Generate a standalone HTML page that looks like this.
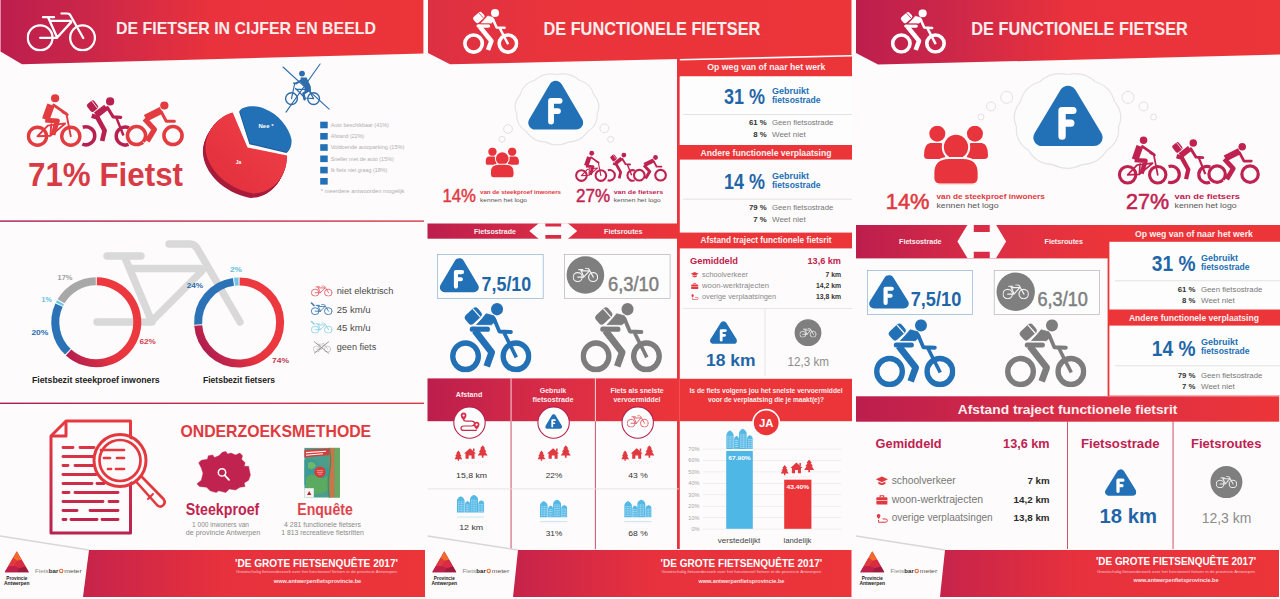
<!DOCTYPE html>
<html><head><meta charset="utf-8"><title>Fietsbarometer</title>
<style>
html,body{margin:0;padding:0;background:#fdfbfb;}
body{width:1280px;height:599px;overflow:hidden;font-family:'Liberation Sans', sans-serif;}
svg{display:block;font-family:'Liberation Sans', sans-serif;}
</style></head><body>
<svg width="1280" height="599" viewBox="0 0 1280 599">
<rect width="1280" height="599" fill="#fdfbfb"/>
<defs>
<linearGradient id="gHead" x1="0" y1="0" x2="1" y2="0">
<stop offset="0" stop-color="#bc1e4d"/><stop offset="0.22" stop-color="#cc2749"/><stop offset="0.5" stop-color="#e9323c"/><stop offset="1" stop-color="#ec3539"/></linearGradient>
<linearGradient id="gBand" x1="0" y1="0" x2="1" y2="0">
<stop offset="0" stop-color="#bc1e4d"/><stop offset="0.55" stop-color="#dc2e45"/><stop offset="1" stop-color="#ec3539"/></linearGradient>
<linearGradient id="gFoot" x1="0" y1="0" x2="1" y2="0">
<stop offset="0" stop-color="#c6234b"/><stop offset="0.4" stop-color="#e7313d"/><stop offset="1" stop-color="#ec3539"/></linearGradient>
<linearGradient id="gLine" x1="0" y1="0" x2="1" y2="0">
<stop offset="0" stop-color="#a51d52"/><stop offset="1" stop-color="#d93a48"/></linearGradient>
<linearGradient id="gDonut" x1="0" y1="0" x2="0" y2="1">
<stop offset="0" stop-color="#ec3539"/><stop offset="0.55" stop-color="#e8363f"/><stop offset="1" stop-color="#b01e50"/></linearGradient>
<linearGradient id="gDoc" gradientUnits="userSpaceOnUse" x1="0" y1="420" x2="0" y2="534">
<stop offset="0" stop-color="#e83a40"/><stop offset="1" stop-color="#b8234f"/></linearGradient>
<linearGradient id="gPie" gradientUnits="userSpaceOnUse" x1="285" y1="120" x2="215" y2="190">
<stop offset="0" stop-color="#ef4048"/><stop offset="1" stop-color="#e2303c"/></linearGradient>
<linearGradient id="gHead2" x1="0" y1="0" x2="1" y2="0">
<stop offset="0" stop-color="#dc3043"/><stop offset="0.3" stop-color="#ea343b"/><stop offset="1" stop-color="#ec3539"/></linearGradient>
<linearGradient id="gLogo" x1="0" y1="0" x2="1" y2="1">
<stop offset="0" stop-color="#f0652f"/><stop offset="1" stop-color="#a81c3c"/></linearGradient>
<symbol id="courier" viewBox="35 37 655 538" preserveAspectRatio="none">
<g fill="none" stroke="currentColor">
<circle cx="160" cy="450" r="103" stroke-width="43"/>
<circle cx="565" cy="450" r="103" stroke-width="43"/>
<path d="M470,268 L568,458" stroke-width="29"/>
<path d="M390,162 L432,258 L525,262" stroke-width="30" stroke-linecap="round" stroke-linejoin="round"/>
<path d="M234,250 L370,420 L330,528" stroke-width="54" stroke-linejoin="round"/>
<path d="M214,240 H336" stroke-width="40" stroke-linecap="round"/>
</g>
<g fill="currentColor">
<circle cx="413" cy="85" r="48"/>
<path d="M326,120 L388,136 L406,172 L368,206 L248,206 L294,158 Z" stroke="currentColor" stroke-width="6" stroke-linejoin="round"/>
<g transform="translate(222,138) rotate(-42)"><rect x="-66" y="-45" width="132" height="90" rx="27"/><path d="M36,-45 V45" style="stroke:var(--bg,#fdfbfb)" stroke-width="9"/></g>
</g>
<path d="M244,214 H350" style="stroke:var(--bg,#fdfbfb)" stroke-width="7"/>
</symbol>
<symbol id="upright" viewBox="45 28 422 398" preserveAspectRatio="none">
<g fill="none" stroke="currentColor">
<circle cx="125" cy="345" r="68" stroke-width="24"/>
<circle cx="385" cy="345" r="68" stroke-width="24"/>
<path d="M125,345 L205,262 L335,250 M125,345 L235,345 L330,255 M345,185 L385,345 M318,178 L355,190" stroke-width="13" stroke-linecap="round" stroke-linejoin="round"/>
<path d="M250,118 L345,185" stroke-width="16" stroke-linecap="round"/>
</g>
<g fill="currentColor">
<circle cx="258" cy="62" r="31"/>
<path d="M215,100 L268,112 L245,215 L285,222 L290,250 L262,258 L248,345 L215,340 L225,262 L165,250 L160,215 Z"/>
</g>
</symbol>
<symbol id="racer" viewBox="800 80 436 346" preserveAspectRatio="none">
<g fill="none" stroke="currentColor">
<circle cx="880" cy="345" r="67" stroke-width="26"/>
<circle cx="1152" cy="345" r="67" stroke-width="26"/>
<path d="M1062,172 L1100,236 L1160,236" stroke-width="17" stroke-linecap="round" stroke-linejoin="round"/>
</g>
<g fill="currentColor">
<circle cx="1090" cy="116" r="31"/>
<path d="M1040,140 L1078,162 L1050,205 L985,235 L1030,300 L975,392 L940,372 L982,305 L918,215 Z"/>
</g>
</symbol>
<symbol id="bike" viewBox="0 0 100 56.4" preserveAspectRatio="none">
<g fill="none" stroke="currentColor" style="stroke-width:var(--sw,3.3)" stroke-linecap="round" stroke-linejoin="round">
<circle cx="19.4" cy="36.8" r="17.9"/><circle cx="80.6" cy="36.8" r="17.9"/>
<path d="M23.5,7 H39.5 M31,7.4 L44,36.4 M34.5,12.4 H63.6 M64.2,14.2 L44,36.4 M19.4,36.8 H44 M50.2,1.7 H58 Q62,1.7 63.6,5.3 L81.6,37"/>
</g></symbol>
<symbol id="trio" viewBox="60 38 1145 398" preserveAspectRatio="none">
<g style="color:var(--c1,inherit)">
<g fill="none" stroke="currentColor">
<circle cx="140" cy="350" r="66" stroke-width="25"/>
<circle cx="382" cy="350" r="66" stroke-width="25"/>
<path d="M140,350 L215,272 L340,256 M140,350 L234,346 L340,258 M240,262 L234,346 M350,186 L382,350 M322,176 L360,192" stroke-width="14" stroke-linecap="round" stroke-linejoin="round"/>
<path d="M258,122 L350,186" stroke-width="21" stroke-linecap="round"/>
<path d="M238,120 L200,228" stroke-width="56" stroke-linecap="butt"/>
<path d="M196,232 L284,238 L252,340" stroke-width="36" stroke-linejoin="round"/>
</g><circle cx="268" cy="72" r="30" fill="currentColor"/>
</g>
<g style="color:var(--c2,inherit)">
<g fill="none" stroke="currentColor">
<path d="M469,284 A66,66 0 1 1 466,408" stroke-width="26"/>
<path d="M805,288 A66,66 0 1 0 802,410" stroke-width="26"/>
<path d="M713,214 L765,345" stroke-width="18"/>
<path d="M648,140 L690,208 L745,212" stroke-width="23" stroke-linecap="round" stroke-linejoin="round"/>
<path d="M640,138 L565,196" stroke-width="48" stroke-linecap="butt"/>
<path d="M534,200 L575,212 L628,308 L610,385" stroke-width="34" stroke-linejoin="round"/>
</g>
<g fill="currentColor"><circle cx="668" cy="95" r="30"/>
<g transform="translate(540,130) rotate(-38)"><rect x="-33" y="-36" width="66" height="72" rx="17"/><path d="M19,-36 V36" stroke="#fcfafa" stroke-width="6"/></g></g>
</g>
<g style="color:var(--c3,inherit)">
<g fill="none" stroke="currentColor">
<circle cx="860" cy="345" r="66" stroke-width="26"/>
<circle cx="1125" cy="345" r="66" stroke-width="26"/>
<path d="M1040,172 L1076,240 L1135,240" stroke-width="22" stroke-linecap="round" stroke-linejoin="round"/>
<path d="M1040,160 L925,218" stroke-width="52" stroke-linecap="butt"/>
<path d="M918,222 L990,300 L938,386" stroke-width="38" stroke-linejoin="round"/>
</g><circle cx="1062" cy="125" r="30" fill="currentColor"/>
<path d="M906,392 L938,412" stroke="#fcfafa" stroke-width="6" fill="none"/>
</g>
</symbol>
<symbol id="ftri" viewBox="0 0 100 92" preserveAspectRatio="none">
<path d="M50,14 L13,77 L87,77 Z" fill="currentColor" stroke="currentColor" stroke-width="25" stroke-linejoin="round"/>
<path d="M41.5,75 V37.5 H57 M41.5,56 H54" fill="none" stroke="#fff" stroke-width="10.5" stroke-linecap="round" stroke-linejoin="round"/>
</symbol>
<symbol id="people" viewBox="0 0 100 92" preserveAspectRatio="none">
<g fill="currentColor">
<circle cx="20.8" cy="12.5" r="12.5"/><circle cx="79.6" cy="12.5" r="12.5"/>
<path d="M0,46 Q0,28 10,27 H26 Q32,28 33,36 V52 H6 Q0,52 0,46 Z"/>
<path d="M100,46 Q100,28 90,27 H74 Q68,28 67,36 V52 H94 Q100,52 100,46 Z"/>
</g>
<g fill="currentColor" stroke="#fcfafa" stroke-width="3.2">
<circle cx="50" cy="33.3" r="20.6"/>
<path d="M14.6,82 V74 Q14.6,50.5 39,50.5 H61 Q85.4,50.5 85.4,74 V82 Q85,91 76,91.7 H24 Q15,91 14.6,82 Z"/>
</g></symbol>
<symbol id="land" viewBox="0 0 100 56" preserveAspectRatio="none">
<g fill="currentColor">
<path d="M11,16 L18,25 H15 L21,33 H17 L23,42 H13 V47 H9 V42 H-1 L5,33 H1 L7,25 H4 Z"/>
<path d="M84,0 L92,10 H88.5 L95.5,20 H91.5 L99,31 H86.5 V38 H81.5 V31 H69 L76.5,20 H72.5 L79.5,10 H76 Z"/>
<path d="M46,9 L64,25 H59.5 V41 H50.5 V31 H42 V41 H32.5 V25 H28 Z"/>
<rect x="55" y="10" width="4.5" height="9"/>
</g>
<g fill="#b9b9b9"><circle cx="12" cy="50" r="1.1"/><circle cx="24" cy="50" r="1.1"/><circle cx="36" cy="50" r="1.1"/><circle cx="48" cy="50" r="1.1"/><circle cx="60" cy="50" r="1.1"/><circle cx="72" cy="50" r="1.1"/><circle cx="84" cy="50" r="1.1"/><circle cx="18" cy="54" r="1.1"/><circle cx="30" cy="54" r="1.1"/><circle cx="42" cy="54" r="1.1"/><circle cx="54" cy="54" r="1.1"/><circle cx="66" cy="54" r="1.1"/><circle cx="78" cy="54" r="1.1"/><circle cx="90" cy="50" r="1.1"/></g>
</symbol>
<symbol id="city" viewBox="0 0 100 82" preserveAspectRatio="none">
<g fill="currentColor">
<path d="M0,64 V22 Q0,12 14,5 Q28,12 28,22 V64 Z"/>
<path d="M29.5,64 V33 Q29.5,26 39,22 Q48.5,26 48.5,33 V64 Z"/>
<path d="M48,64 V16 Q48,7 62,0 Q77,7 77,16 V64 Z"/>
<path d="M78,64 V31 Q78,24 89,20 Q100,24 100,31 V64 Z"/>
</g>
<g stroke="#fff" stroke-width="2.4" stroke-dasharray="3.4 3" opacity="0.8">
<path d="M6,24 V62 M11.5,24 V62 M17,24 V62 M22.5,24 V62 M34,35 V62 M39,35 V62 M44,35 V62 M54,18 V62 M59.5,18 V62 M65,18 V62 M70.5,18 V62 M83.5,33 V62 M89,33 V62 M94.5,33 V62"/>
</g>
<path d="M0,80.5 H100" stroke="currentColor" stroke-width="2" opacity="0.8"/>
</symbol>
<symbol id="logo" viewBox="0 0 100 88" preserveAspectRatio="none">
<path d="M50,0 L100,88 H0 Z" fill="#c8243f"/>
<path d="M50,0 L70,35 L52,40 L34,28 Z" fill="#f06a2c"/>
<path d="M34,28 L52,40 L40,62 L14,63 Z" fill="#e23a3c"/>
<path d="M52,40 L70,35 L86,63 L60,70 L40,62 Z" fill="#d82c42"/>
<path d="M14,63 L40,62 L60,70 L50,88 H0 Z" fill="#bb1f4a"/>
<path d="M60,70 L86,63 L100,88 H50 Z" fill="#9c1b40"/>
</symbol>
</defs>

<g id="p1">
<path d="M0.5,0 H423.4 V53.4 L22,64.2 L0.5,51.4 Z" fill="url(#gHead)"/>
<use href="#bike" x="26.7" y="12.3" width="69.3" height="39.1" color="#fff"/>
<text x="116" y="34.4" font-size="16.6" font-weight="700" fill="#fdeeee" text-anchor="start" textLength="260" lengthAdjust="spacingAndGlyphs" >DE FIETSER IN CIJFER EN BEELD</text>
<use href="#trio" x="26.5" y="93.6" width="157.5" height="54.4" color="#e23c40" style="--c2:#b8214f"/>
<text x="28" y="186" font-size="33" font-weight="700" fill="#d83b45" text-anchor="start" textLength="155" lengthAdjust="spacingAndGlyphs" >71% Fietst</text>
<g><path d="M232.7,112.5 C219,116 206,130 205.5,147.5 C206,168 226,188 252.8,193.5 C275,193 287.5,174 287,155.4 L247.5,147.5 Z" transform="translate(-2.60,4.40)" fill="#a81c3c"/><path d="M232.7,112.5 C219,116 206,130 205.5,147.5 C206,168 226,188 252.8,193.5 C275,193 287.5,174 287,155.4 L247.5,147.5 Z" transform="translate(-2.27,3.85)" fill="#a81c3c"/><path d="M232.7,112.5 C219,116 206,130 205.5,147.5 C206,168 226,188 252.8,193.5 C275,193 287.5,174 287,155.4 L247.5,147.5 Z" transform="translate(-1.95,3.30)" fill="#a81c3c"/><path d="M232.7,112.5 C219,116 206,130 205.5,147.5 C206,168 226,188 252.8,193.5 C275,193 287.5,174 287,155.4 L247.5,147.5 Z" transform="translate(-1.62,2.75)" fill="#a81c3c"/><path d="M232.7,112.5 C219,116 206,130 205.5,147.5 C206,168 226,188 252.8,193.5 C275,193 287.5,174 287,155.4 L247.5,147.5 Z" transform="translate(-1.30,2.20)" fill="#a81c3c"/><path d="M232.7,112.5 C219,116 206,130 205.5,147.5 C206,168 226,188 252.8,193.5 C275,193 287.5,174 287,155.4 L247.5,147.5 Z" transform="translate(-0.98,1.65)" fill="#a81c3c"/><path d="M232.7,112.5 C219,116 206,130 205.5,147.5 C206,168 226,188 252.8,193.5 C275,193 287.5,174 287,155.4 L247.5,147.5 Z" transform="translate(-0.65,1.10)" fill="#a81c3c"/><path d="M232.7,112.5 C219,116 206,130 205.5,147.5 C206,168 226,188 252.8,193.5 C275,193 287.5,174 287,155.4 L247.5,147.5 Z" transform="translate(-0.33,0.55)" fill="#a81c3c"/><path d="M232.7,112.5 C219,116 206,130 205.5,147.5 C206,168 226,188 252.8,193.5 C275,193 287.5,174 287,155.4 L247.5,147.5 Z" fill="url(#gPie)"/>
<path d="M239.7,110.8 C243,106 255,104.5 265,109 C278,114 289,127 291.5,139.5 C292,145 290,150 287,152 L250,143.2 Z" transform="translate(-0.6,1)" fill="#1a5a96"/><path d="M239.7,110.8 C243,106 255,104.5 265,109 C278,114 289,127 291.5,139.5 C292,145 290,150 287,152 L250,143.2 Z" fill="#2270b5"/></g>
<text x="266" y="128.3" font-size="5.6" font-weight="700" fill="#fff" text-anchor="middle" textLength="15" lengthAdjust="spacingAndGlyphs" >Nee *</text>
<text x="238.5" y="164" font-size="5.6" font-weight="700" fill="#fff" text-anchor="middle" textLength="5.5" lengthAdjust="spacingAndGlyphs" >Ja</text>
<g stroke="#2e6cab" fill="none" stroke-linecap="round" stroke-linejoin="round">
<path d="M283,67 L329.1,109.1 M320.1,64 L286,112.1" stroke-width="1.1"/>
<circle cx="291.5" cy="98.6" r="5.9" stroke-width="1.4"/><circle cx="313.6" cy="98.6" r="5.9" stroke-width="1.4"/>
<path d="M293.4,83.2 H296.2 L294.6,84 L291.5,98.6 M295.6,88.5 L305,98 L313.6,98.6 L308.6,89.6 M296,89.4 H308.6" stroke-width="1.2"/>
<path d="M302.6,79.6 L296.2,83.4" stroke-width="1.9"/>
<path d="M308.4,90.4 L303.4,93.6 L304.6,99.2" stroke-width="2.5"/>
</g>
<g fill="#2e6cab"><circle cx="302" cy="73.6" r="2.9"/><path d="M300.6,77.6 L306.6,77.4 L310.8,86.6 L311,91.6 L304.6,91.6 L304.4,86 L300.6,82.4 Z"/></g>
<rect x="320.2" y="121.7" width="7.5" height="6.6" fill="#2270b5"/>
<text x="330.7" y="126.9" font-size="5.4" font-weight="400" fill="#b0b0b0" text-anchor="start" textLength="58.2" lengthAdjust="spacingAndGlyphs" >Auto beschikbaar (41%)</text>
<rect x="320.2" y="133.0" width="7.5" height="6.6" fill="#2270b5"/>
<text x="330.7" y="138.17000000000002" font-size="5.4" font-weight="400" fill="#b0b0b0" text-anchor="start" textLength="33.4" lengthAdjust="spacingAndGlyphs" >Afstand (22%)</text>
<rect x="320.2" y="144.2" width="7.5" height="6.6" fill="#2270b5"/>
<text x="330.7" y="149.44" font-size="5.4" font-weight="400" fill="#b0b0b0" text-anchor="start" textLength="73.7" lengthAdjust="spacingAndGlyphs" >Voldoende autoparking (15%)</text>
<rect x="320.2" y="155.5" width="7.5" height="6.6" fill="#2270b5"/>
<text x="330.7" y="160.71" font-size="5.4" font-weight="400" fill="#b0b0b0" text-anchor="start" textLength="63.1" lengthAdjust="spacingAndGlyphs" >Sneller met de auto (15%)</text>
<rect x="320.2" y="166.8" width="7.5" height="6.6" fill="#2270b5"/>
<text x="330.7" y="171.98" font-size="5.4" font-weight="400" fill="#b0b0b0" text-anchor="start" textLength="56.7" lengthAdjust="spacingAndGlyphs" >Ik fiets niet graag (18%)</text>
<rect x="320.2" y="178.0" width="7.5" height="6.6" fill="#2270b5"/>
<text x="330.7" y="183.25" font-size="5.4" font-weight="400" fill="#b0b0b0" text-anchor="start" textLength="1.5" lengthAdjust="spacingAndGlyphs" >.</text>
<text x="320.8" y="193.2" font-size="5.4" font-weight="400" fill="#b0b0b0" text-anchor="start" textLength="83.6" lengthAdjust="spacingAndGlyphs" >* meerdere antwoorden mogelijk</text>
<rect x="0" y="220.4" width="424" height="1.4" fill="url(#gLine)"/>
<rect x="0" y="402.6" width="424" height="1.4" fill="url(#gLine)"/>
<g fill="none" stroke="#d9d9d9" stroke-width="7.4" stroke-linecap="round" stroke-linejoin="round">
<path d="M107,256 H141 M125,258 L152,322 M131,268.5 H200 M202,271 L152,321 M97,322 H152 M169,244 H190 Q195,244 197.5,249 L240,322"/>
</g>
<linearGradient id="gD1" gradientUnits="userSpaceOnUse" x1="108.6" y1="314.0" x2="57.4" y2="346.8"><stop offset="0" stop-color="#ec383f"/><stop offset="0.35" stop-color="#e4333f"/><stop offset="1" stop-color="#ae1d50"/></linearGradient>
<path d="M96.80,281.20 A41,41 0 1 1 68.60,352.43" fill="none" stroke="url(#gD1)" stroke-width="8"/>
<path d="M67.87,351.74 A41,41 0 0 1 58.99,305.20" fill="none" stroke="#2b72b7" stroke-width="8"/>
<path d="M59.42,304.29 A41,41 0 0 1 60.50,302.21" fill="none" stroke="#6cc6ea" stroke-width="8"/>
<path d="M61.00,301.34 A41,41 0 0 1 95.80,281.20" fill="none" stroke="#a8a8a8" stroke-width="8"/>
<linearGradient id="gD2" gradientUnits="userSpaceOnUse" x1="251.4" y1="314.3" x2="200.2" y2="347.1"><stop offset="0" stop-color="#ec383f"/><stop offset="0.35" stop-color="#e4333f"/><stop offset="1" stop-color="#ae1d50"/></linearGradient>
<path d="M239.60,281.50 A41,41 0 1 1 198.22,325.57" fill="none" stroke="url(#gD2)" stroke-width="8"/>
<path d="M198.15,324.57 A41,41 0 0 1 233.46,281.89" fill="none" stroke="#2b72b7" stroke-width="8"/>
<path d="M234.46,281.76 A41,41 0 0 1 238.60,281.50" fill="none" stroke="#6cc6ea" stroke-width="8"/>
<text x="57.5" y="280.2" font-size="7.2" font-weight="700" fill="#a0a0a0" text-anchor="start" textLength="15" lengthAdjust="spacingAndGlyphs" >17%</text>
<text x="41.6" y="301.6" font-size="7.2" font-weight="700" fill="#62c0e2" text-anchor="start" textLength="10" lengthAdjust="spacingAndGlyphs" >1%</text>
<text x="31.4" y="335.2" font-size="7.2" font-weight="700" fill="#2b6cab" text-anchor="start" textLength="17" lengthAdjust="spacingAndGlyphs" >20%</text>
<text x="139.5" y="344.3" font-size="7.2" font-weight="700" fill="#d0434f" text-anchor="start" textLength="16.3" lengthAdjust="spacingAndGlyphs" >62%</text>
<text x="186.7" y="288.1" font-size="7.2" font-weight="700" fill="#2b6cab" text-anchor="start" textLength="16.5" lengthAdjust="spacingAndGlyphs" >24%</text>
<text x="230" y="272.2" font-size="7.2" font-weight="700" fill="#62c0e2" text-anchor="start" textLength="12" lengthAdjust="spacingAndGlyphs" >2%</text>
<text x="272" y="362.6" font-size="7.2" font-weight="700" fill="#c03a52" text-anchor="start" textLength="17" lengthAdjust="spacingAndGlyphs" >74%</text>
<text x="32" y="382.8" font-size="8.2" font-weight="700" fill="#222" text-anchor="start" textLength="127.7" lengthAdjust="spacingAndGlyphs" >Fietsbezit steekproef inwoners</text>
<text x="203" y="382.8" font-size="8.2" font-weight="700" fill="#222" text-anchor="start" textLength="72" lengthAdjust="spacingAndGlyphs" >Fietsbezit fietsers</text>
<use href="#bike" x="311" y="285.5" width="21.5" height="11" color="#e4626a" style="--sw:4.4"/>
<use href="#bike" x="311" y="304" width="21.5" height="11" color="#3a78b0" style="--sw:4.4"/>
<path d="M311.5,303 l2.5,2.5" stroke="#3a78b0" stroke-width="1.6" stroke-linecap="round"/>
<use href="#bike" x="311" y="322.5" width="21.5" height="11" color="#8fd3ea" style="--sw:4.4"/>
<path d="M311.5,321.5 l2.5,2.5" stroke="#8fd3ea" stroke-width="1.6" stroke-linecap="round"/>
<g opacity="0.8"><use href="#bike" x="313" y="343" width="18" height="9.5" color="#9a9a9a"/><path d="M314,341.5 L329,353.5 M329,341.5 L314,353.5" stroke="#7a7a7a" stroke-width="0.9"/></g>
<text x="336.7" y="294.2" font-size="9.2" font-weight="400" fill="#4a4a4a" text-anchor="start" textLength="56.7" lengthAdjust="spacingAndGlyphs" >niet elektrisch</text>
<text x="336.7" y="312.8" font-size="9.2" font-weight="400" fill="#4a4a4a" text-anchor="start" textLength="34" lengthAdjust="spacingAndGlyphs" >25 km/u</text>
<text x="336.7" y="331.4" font-size="9.2" font-weight="400" fill="#4a4a4a" text-anchor="start" textLength="34" lengthAdjust="spacingAndGlyphs" >45 km/u</text>
<text x="336.7" y="350.4" font-size="9.2" font-weight="400" fill="#4a4a4a" text-anchor="start" textLength="39.5" lengthAdjust="spacingAndGlyphs" >geen fiets</text>
<g fill="none" stroke="url(#gDoc)" stroke-width="3" stroke-linejoin="round">
<path d="M66,421 H130.5 V533 H51 V436 Z"/>
<path d="M66,421 V436 H51"/>
<g stroke-width="2.9" stroke-linecap="round">
<path d="M63,447.5 H73 M80,447.5 H94"/>
<path d="M63,456.5 H93"/>
<path d="M63,465.5 H68 M75,465.5 H93"/>
<path d="M63,474.5 H96"/>
<path d="M63,483.5 H92 M97,483.5 H104"/>
<path d="M63,492.5 H69 M75,492.5 H118"/>
<path d="M63,501.5 H103 M109,501.5 H118"/>
<path d="M63,510.5 H77 M90,510.5 H118"/>
<path d="M63,519.5 H66 M71,519.5 H97 M102,519.5 H118"/>
</g>
</g>
<circle cx="120" cy="460.5" r="24" fill="#fcfafa"/>
<g fill="none" stroke="#e4383f" stroke-linejoin="round" stroke-linecap="round">
<circle cx="120" cy="460.5" r="26" stroke-width="3"/>
<circle cx="120" cy="460.5" r="20.5" stroke-width="2.7"/>
<path d="M101,450 H124 M104,458 H110 M117,458 H124 M108,469 H111 M116,469 H124" stroke-width="2.7"/>
<path d="M136,481.5 L157.5,505.5 Q161,508 163.5,505 Q166,502 163.5,499 L141.5,476.5" stroke-width="2.6"/>
<path d="M153,494 l-5,5" stroke-width="2"/>
</g>
<text x="180.4" y="436.6" font-size="16.2" font-weight="700" fill="#e0393f" text-anchor="start" textLength="190.8" lengthAdjust="spacingAndGlyphs" >ONDERZOEKSMETHODE</text>
<path d="M225.8,451.4 L227.6,454.0 L231.1,453.1 L235.5,454.9 L239.9,453.1 L242.5,455.8 L241.6,459.3 L245.1,462.8 L244.2,466.3 L248.6,466.3 L250.4,475.1 L248.6,480.3 L244.2,482.9 L245.1,486.5 L239.9,487.3 L235.5,490.0 L229.3,489.1 L225.8,492.6 L218.8,490.8 L216.2,492.6 L210.1,490.8 L206.6,487.3 L199.5,486.5 L196.9,483.8 L201.3,480.3 L203.0,473.3 L201.3,468.0 L198.7,462.8 L201.3,460.2 L207.4,459.3 L208.3,455.8 L212.7,454.9 L214.4,457.5 L218.8,455.8 L222.3,452.3 Z" fill="#c0234f" stroke="#c0234f" stroke-width="0.4" stroke-linejoin="round"/>
<circle cx="222" cy="472.4" r="3.7" fill="none" stroke="#fff" stroke-width="1.5"/><path d="M224.8,475.3 L229,479.8" stroke="#fff" stroke-width="1.8" stroke-linecap="round"/>
<g>
<rect x="304.4" y="447.9" width="35.4" height="49.6" fill="#4a9f8c"/>
<path d="M304.4,460 q8,-3 13,3 q6,7 12,4 v20 q-8,6 -14,0 q-6,-5 -11,-2 Z" fill="#3e9a96"/>
<path d="M306,478 q5,-6 11,-2 q7,5 10,-1 l2,14 q-10,8 -23,3 Z" fill="#5aaa62"/>
<path d="M308,463 q6,-3 8,3 q-3,5 -8,2 Z" fill="#6cb86a"/>
<rect x="329.4" y="447.9" width="5.2" height="49.6" fill="#c9744a"/>
<path d="M329.4,447.9 q2.5,12 0,25 q-2.5,12 0,24.6" stroke="#3f8c5a" stroke-width="1.2" fill="none"/>
<rect x="334.6" y="447.9" width="5.2" height="49.6" fill="#6aa860"/>
<path d="M304.4,450 l25,-1.6 v6.6 l-25,2.4 Z" fill="#d63c3c"/>
<path d="M306,452.6 l20,-1.4 M306,455.2 l17,-1.4" stroke="#fff" stroke-width="1.1"/>
<circle cx="320" cy="472" r="5.6" fill="#d63c3c"/>
<path d="M317,470.6 h6 M317,472.4 h6 M318,474.2 h4" stroke="#f6c9c0" stroke-width="0.6"/>
<rect x="304.4" y="488.2" width="9.4" height="9.3" fill="#f7f5f3"/>
<path d="M307,495 l2.2,-4 l2.2,4 Z" fill="#b8203a"/>
</g>
<text x="185.8" y="515" font-size="15.6" font-weight="700" fill="#c0254f" text-anchor="start" textLength="73.5" lengthAdjust="spacingAndGlyphs" >Steekproef</text>
<text x="297.3" y="515" font-size="15.6" font-weight="700" fill="#e0434c" text-anchor="start" textLength="55.5" lengthAdjust="spacingAndGlyphs" >Enquête</text>
<text x="220.5" y="526.8" font-size="6.4" font-weight="400" fill="#8a8a8a" text-anchor="middle" textLength="57" lengthAdjust="spacingAndGlyphs" >1 000 inwoners van</text>
<text x="223" y="534.7" font-size="6.4" font-weight="400" fill="#8a8a8a" text-anchor="middle" textLength="74.5" lengthAdjust="spacingAndGlyphs" >de provincie Antwerpen</text>
<text x="322.5" y="526.8" font-size="6.4" font-weight="400" fill="#8a8a8a" text-anchor="middle" textLength="77" lengthAdjust="spacingAndGlyphs" >4 281 functionele fietsers</text>
<text x="322.5" y="534.7" font-size="6.4" font-weight="400" fill="#8a8a8a" text-anchor="middle" textLength="82.5" lengthAdjust="spacingAndGlyphs" >1 813 recreatieve fietsritten</text>
<path d="M89,550 H425 V597 H83 Z" fill="url(#gFoot)"/>
<path d="M0,536 L89,550" stroke="#d9d6d6" stroke-width="1.5" fill="none"/>
<use href="#logo" x="4.6" y="551.3" width="24.4" height="21.3"/>
<text x="16.8" y="580" font-size="4.8" font-weight="700" fill="#222" text-anchor="middle" textLength="21" lengthAdjust="spacingAndGlyphs" >Provincie</text>
<text x="16.8" y="584.6" font-size="4.8" font-weight="700" fill="#222" text-anchor="middle" textLength="25.5" lengthAdjust="spacingAndGlyphs" >Antwerpen</text>
<text x="35" y="572.8" font-size="5.6" font-weight="400" fill="#8a8a8a" text-anchor="start" textLength="13.5" lengthAdjust="spacingAndGlyphs" >Fiets</text>
<text x="48.8" y="572.8" font-size="5.6" font-weight="700" fill="#2a2a2a" text-anchor="start" textLength="9.5" lengthAdjust="spacingAndGlyphs" >bar</text>
<circle cx="61.2" cy="570.9" r="1.7" fill="none" stroke="#e0703c" stroke-width="1.1"/>
<text x="64.2" y="572.8" font-size="5.6" font-weight="400" fill="#555" text-anchor="start" textLength="17.5" lengthAdjust="spacingAndGlyphs" >meter</text>
<text x="235" y="566.5" font-size="10.6" font-weight="700" fill="#fff" text-anchor="start" textLength="163" lengthAdjust="spacingAndGlyphs" >'DE GROTE FIETSENQUÊTE 2017'</text>
<text x="236" y="572.6" font-size="3.6" font-weight="400" fill="#f8c5c8" text-anchor="start" textLength="161" lengthAdjust="spacingAndGlyphs" >Grootschalig fietsonderzoek over het functioneel fietsen in de provincie Antwerpen</text>
<text x="317.5" y="583.3" font-size="5.6" font-weight="700" fill="#fde4e4" text-anchor="middle" textLength="87.5" lengthAdjust="spacingAndGlyphs" >www.antwerpenfietsprovincie.be</text>
</g>

<g id="p2">
<path d="M428,0 H851.5 V55 L450,64.3 L428,53 Z" fill="url(#gHead2)"/>
<use href="#courier" x="463" y="9" width="55.5" height="45" color="#fff" style="--bg:#e8343c"/>
<text x="543.4" y="34.6" font-size="18.4" font-weight="700" fill="#fdeeee" text-anchor="start" textLength="217" lengthAdjust="spacingAndGlyphs" >DE FUNCTIONELE FIETSER</text>
<rect x="677" y="57" width="2.8" height="492" fill="#e8343e"/>
<path d="M678.8,60.6 L852,56.6 V76.5 H678.8 Z" fill="#ec3539"/>
<rect x="850.6" y="57" width="1.6" height="492" fill="#ec3539" opacity="0.0"/>
<text x="766.3" y="69.6" font-size="9.2" font-weight="700" fill="#fdeeee" text-anchor="middle" textLength="118" lengthAdjust="spacingAndGlyphs" >Op weg van of naar het werk</text>
<rect x="679.8" y="76.5" width="172.2" height="68.5" fill="#fefdfd"/>
<text x="724" y="104" font-size="22.5" font-weight="700" fill="#1f66a8" text-anchor="start" textLength="41" lengthAdjust="spacingAndGlyphs" >31 %</text>
<text x="772" y="94.4" font-size="8.6" font-weight="700" fill="#2270b5" text-anchor="start" textLength="37" lengthAdjust="spacingAndGlyphs" >Gebruikt</text>
<text x="772" y="103.2" font-size="8.6" font-weight="700" fill="#2270b5" text-anchor="start" textLength="48.6" lengthAdjust="spacingAndGlyphs" >fietsostrade</text>
<rect x="683" y="114" width="169" height="0.8" fill="#dcdcdc"/>
<text x="766.7" y="124.8" font-size="7.8" font-weight="700" fill="#333" text-anchor="end" >61 %</text>
<text x="772" y="124.8" font-size="7.8" font-weight="400" fill="#777" text-anchor="start" textLength="61.3" lengthAdjust="spacingAndGlyphs" >Geen fietsostrade</text>
<text x="766.7" y="136.5" font-size="7.8" font-weight="700" fill="#333" text-anchor="end" >8 %</text>
<text x="772" y="136.5" font-size="7.8" font-weight="400" fill="#777" text-anchor="start" textLength="33.7" lengthAdjust="spacingAndGlyphs" >Weet niet</text>
<rect x="678.8" y="145" width="173.2" height="14.6" fill="#ec3539"/>
<text x="766" y="155.6" font-size="9.2" font-weight="700" fill="#fdeeee" text-anchor="middle" textLength="131" lengthAdjust="spacingAndGlyphs" >Andere functionele verplaatsing</text>
<text x="724" y="188.6" font-size="22.5" font-weight="700" fill="#1f66a8" text-anchor="start" textLength="41" lengthAdjust="spacingAndGlyphs" >14 %</text>
<text x="772" y="179.4" font-size="8.6" font-weight="700" fill="#2270b5" text-anchor="start" textLength="37" lengthAdjust="spacingAndGlyphs" >Gebruikt</text>
<text x="772" y="188.2" font-size="8.6" font-weight="700" fill="#2270b5" text-anchor="start" textLength="48.6" lengthAdjust="spacingAndGlyphs" >fietsostrade</text>
<rect x="683" y="198.7" width="169" height="0.8" fill="#dcdcdc"/>
<text x="766.7" y="210.2" font-size="7.8" font-weight="700" fill="#333" text-anchor="end" >79 %</text>
<text x="772" y="210.2" font-size="7.8" font-weight="400" fill="#777" text-anchor="start" textLength="61.3" lengthAdjust="spacingAndGlyphs" >Geen fietsostrade</text>
<text x="766.7" y="222.2" font-size="7.8" font-weight="700" fill="#333" text-anchor="end" >7 %</text>
<text x="772" y="222.2" font-size="7.8" font-weight="400" fill="#777" text-anchor="start" textLength="33.7" lengthAdjust="spacingAndGlyphs" >Weet niet</text>
<rect x="678.8" y="232.6" width="173.2" height="15.8" fill="#ec3539"/>
<text x="766" y="243.4" font-size="9.2" font-weight="700" fill="#fdeeee" text-anchor="middle" textLength="131" lengthAdjust="spacingAndGlyphs" >Afstand traject functionele fietsrit</text>
<text x="690" y="264.3" font-size="9.6" font-weight="700" fill="#bf2250" text-anchor="start" textLength="48" lengthAdjust="spacingAndGlyphs" >Gemiddeld</text>
<text x="841" y="264.3" font-size="9.6" font-weight="700" fill="#bf2250" text-anchor="end" textLength="33.5" lengthAdjust="spacingAndGlyphs" >13,6 km</text>
<g transform="translate(691.2,271.29999999999995) scale(0.7)" fill="#e0393f"><path d="M5,1 L10.5,3.6 L5,6.2 L-0.5,3.6 Z"/><path d="M1.8,5.6 V7.6 Q5,9.8 8.2,7.6 V5.6 L5,7.2 Z"/></g>
<text x="702" y="276.9" font-size="7.2" font-weight="400" fill="#8a8a8a" text-anchor="start" textLength="46" lengthAdjust="spacingAndGlyphs" >schoolverkeer</text>
<text x="841" y="276.9" font-size="6.8" font-weight="700" fill="#333" text-anchor="end" >7 km</text>
<g transform="translate(691.2,282.59999999999997) scale(0.7)" fill="#e0393f"><rect x="0" y="2.6" width="10" height="6.6" rx="0.8"/><path d="M3.4,2.6 V1.2 H6.6 V2.6" fill="none" stroke="#e0393f" stroke-width="1"/><rect x="0" y="5.2" width="10" height="0.6" fill="#fff"/></g>
<text x="702" y="288.2" font-size="7.2" font-weight="400" fill="#8a8a8a" text-anchor="start" textLength="67" lengthAdjust="spacingAndGlyphs" >woon-werktrajecten</text>
<text x="841" y="288.2" font-size="6.8" font-weight="700" fill="#333" text-anchor="end" >14,2 km</text>
<g transform="translate(691.2,293.5) scale(0.7)"><path d="M2,1 a1.7,1.7 0 0 1 1.7,1.7 q0,1.2 -1.7,3 q-1.7,-1.8 -1.7,-3 a1.7,1.7 0 0 1 1.7,-1.7 Z" fill="#e0393f"/><path d="M2,6.4 V8.6 H8 Q10,8.6 10,7 Q10,5.6 8,5.6 H5.6" fill="none" stroke="#e0393f" stroke-width="0.9"/></g>
<text x="702" y="299.1" font-size="7.2" font-weight="400" fill="#8a8a8a" text-anchor="start" textLength="74" lengthAdjust="spacingAndGlyphs" >overige verplaatsingen</text>
<text x="841" y="299.1" font-size="6.8" font-weight="700" fill="#333" text-anchor="end" >13,8 km</text>
<rect x="683" y="308" width="169" height="0.8" fill="#e2e2e2"/>
<rect x="764.6" y="308" width="0.8" height="68" fill="#e2e2e2"/>
<use href="#ftri" x="710" y="321" width="27" height="23.5" color="#2270b5"/>
<text x="706" y="365.5" font-size="17" font-weight="700" fill="#1f66a8" text-anchor="start" textLength="49.5" lengthAdjust="spacingAndGlyphs" >18 km</text>
<circle cx="808" cy="332.7" r="13.4" fill="#7f7f7f"/>
<use href="#bike" x="799.5" y="328" width="17" height="9.6" color="#e8e8e8" style="--sw:5"/>
<text x="787.6" y="366" font-size="12.6" font-weight="400" fill="#8c8c8c" text-anchor="start" textLength="41.5" lengthAdjust="spacingAndGlyphs" >12,3 km</text>
<path d="M557.0,74.5 Q569.8,71.9 578.9,80.0 Q591.3,83.7 593.8,94.7 Q601.9,103.5 597.1,113.9 Q598.3,125.1 587.6,131.6 Q581.5,141.5 568.4,142.1 Q557.0,147.6 545.6,142.1 Q532.5,141.5 526.4,131.6 Q515.7,125.1 516.9,113.9 Q512.1,103.5 520.2,94.7 Q522.7,83.7 535.1,80.0 Q544.2,71.9 557.0,74.5" fill="#fdfcfc" stroke="#e6e3e3" stroke-width="1.2"/>
<g fill="#fdfcfc" stroke="#dadada" stroke-width="0.8"><circle cx="508" cy="129" r="4.4"/><circle cx="502" cy="139.3" r="3"/><circle cx="604.3" cy="128.3" r="4.4"/><circle cx="610.6" cy="139.3" r="3"/></g>
<use href="#ftri" x="528" y="80" width="55.5" height="51" color="#2270b5"/>
<use href="#people" x="485.5" y="147.6" width="33.5" height="30.4" color="#e8343c"/>
<use href="#trio" x="575" y="150.5" width="92.00" height="31.98" color="#bf2250"/>
<text x="442.5" y="201.8" font-size="17.6" font-weight="400" fill="#e0393f" text-anchor="start" textLength="33.5" lengthAdjust="spacingAndGlyphs" stroke="#e0393f" stroke-width="0.45">14%</text>
<text x="480" y="193.7" font-size="5.9" font-weight="700" fill="#e0393f" text-anchor="start" textLength="81" lengthAdjust="spacingAndGlyphs" >van de steekproef inwoners</text>
<text x="480" y="201.8" font-size="5.9" font-weight="400" fill="#555" text-anchor="start" textLength="47" lengthAdjust="spacingAndGlyphs" >kennen het logo</text>
<text x="576" y="201.8" font-size="17.6" font-weight="400" fill="#bf2250" text-anchor="start" textLength="34" lengthAdjust="spacingAndGlyphs" stroke="#bf2250" stroke-width="0.45">27%</text>
<text x="613.7" y="193.7" font-size="5.9" font-weight="700" fill="#bf2250" text-anchor="start" textLength="49.5" lengthAdjust="spacingAndGlyphs" >van de fietsers</text>
<text x="613.7" y="201.8" font-size="5.9" font-weight="400" fill="#555" text-anchor="start" textLength="47" lengthAdjust="spacingAndGlyphs" >kennen het logo</text>
<rect x="427.5" y="223.5" width="251.5" height="15.2" fill="url(#gBand)"/>
<path d="M529.30,231.10 L538.80,223.30 L545.35,223.30 L545.35,226.60 L561.15,226.60 L561.15,223.30 L567.70,223.30 L577.20,231.10 L567.70,238.90 L561.15,238.90 L561.15,235.00 L545.35,235.00 L545.35,238.90 L538.80,238.90 Z" fill="#fdfbfb"/>
<text x="495" y="233.5" font-size="6.4" font-weight="700" fill="#fdeeee" text-anchor="middle" textLength="42" lengthAdjust="spacingAndGlyphs" >Fietsostrade</text>
<text x="623.3" y="233.5" font-size="6.4" font-weight="700" fill="#fdeeee" text-anchor="middle" textLength="38.5" lengthAdjust="spacingAndGlyphs" >Fietsroutes</text>
<rect x="437.6" y="254.4" width="105.6" height="44.2" fill="#fdfdfd" stroke="#8fb0cc" stroke-width="0.7"/>
<rect x="564.5" y="254.4" width="105.6" height="44.2" fill="#fdfdfd" stroke="#b5b5b5" stroke-width="0.7"/>
<use href="#ftri" x="439.6" y="257.6" width="39.4" height="35.6" color="#2270b5"/>
<text x="481.6" y="291.2" font-size="19.4" font-weight="700" fill="#1f66a8" text-anchor="start" textLength="49.6" lengthAdjust="spacingAndGlyphs" >7,5/10</text>
<circle cx="585.4" cy="275" r="18.8" fill="#7f7f7f"/>
<use href="#bike" x="572.8" y="267.8" width="25.2" height="14.2" color="#f2f2f2" style="--sw:4.6"/>
<text x="608" y="291.2" font-size="19.4" font-weight="400" fill="#808080" text-anchor="start" textLength="51" lengthAdjust="spacingAndGlyphs" stroke="#808080" stroke-width="0.5">6,3/10</text>
<use href="#courier" x="450" y="303" width="81.5" height="69.4" color="#2270b5"/>
<use href="#courier" x="580.5" y="303" width="81.5" height="69.4" color="#7d7d7d"/>
<rect x="427.5" y="378.4" width="251.5" height="42.8" fill="url(#gBand)"/>
<rect x="510.6" y="378.4" width="0.9" height="42.8" fill="#fff" opacity="0.9"/><rect x="594.9" y="378.4" width="0.9" height="42.8" fill="#fff" opacity="0.9"/>
<rect x="510.6" y="421.2" width="0.9" height="128" fill="#c9405a"/><rect x="594.9" y="421.2" width="0.9" height="128" fill="#c9405a"/>
<text x="469" y="396.9" font-size="6.5" font-weight="700" fill="#fdeeee" text-anchor="middle" textLength="26.5" lengthAdjust="spacingAndGlyphs" >Afstand</text>
<text x="553" y="392.7" font-size="6.5" font-weight="700" fill="#fdeeee" text-anchor="middle" textLength="26.5" lengthAdjust="spacingAndGlyphs" >Gebruik</text>
<text x="553" y="401.8" font-size="6.5" font-weight="700" fill="#fdeeee" text-anchor="middle" textLength="41" lengthAdjust="spacingAndGlyphs" >fietsostrade</text>
<text x="637" y="392.7" font-size="6.5" font-weight="700" fill="#fdeeee" text-anchor="middle" textLength="53" lengthAdjust="spacingAndGlyphs" >Fiets als snelste</text>
<text x="637" y="401.8" font-size="6.5" font-weight="700" fill="#fdeeee" text-anchor="middle" textLength="47" lengthAdjust="spacingAndGlyphs" >vervoermiddel</text>
<circle cx="469.5" cy="422.6" r="15.7" fill="#fefdfd" stroke="#b5234f" stroke-width="1.1"/>
<circle cx="553.6" cy="422.6" r="15.7" fill="#fefdfd" stroke="#b5234f" stroke-width="1.1"/>
<circle cx="637.7" cy="422.6" r="15.7" fill="#fefdfd" stroke="#b5234f" stroke-width="1.1"/>
<g fill="none" stroke="#c42c4c" stroke-width="1.2" stroke-linecap="round">
<path d="M463.6,419.6 q0,1.6 3,1.6 h5 q3,0 3,2.4 q0,2.4 -3,2.4 h-8 q-2.6,0 -2.6,2.2 q0,2.2 2.6,2.2 h12.6"/>
</g>
<g fill="#d8304a"><path d="M463.6,412.6 a2.9,2.9 0 0 1 2.9,2.9 q0,2 -2.9,5 q-2.9,-3 -2.9,-5 a2.9,2.9 0 0 1 2.9,-2.9 Z"/>
<path d="M476.6,421.8 a2.9,2.9 0 0 1 2.9,2.9 q0,2 -2.9,5 q-2.9,-3 -2.9,-5 a2.9,2.9 0 0 1 2.9,-2.9 Z"/></g>
<circle cx="463.6" cy="415.5" r="1.1" fill="#fff"/><circle cx="476.6" cy="424.7" r="1.1" fill="#fff"/>
<use href="#ftri" x="545.2" y="414" width="17" height="15.2" color="#2270b5"/>
<use href="#bike" x="626.8" y="415.3" width="21.8" height="12.2" color="#e0616a" style="--sw:4.4"/>
<use href="#land" x="454.7" y="445.2" width="33.3" height="18.6" color="#e0393f"/>
<use href="#land" x="537.8" y="445.2" width="33.3" height="18.6" color="#e0393f"/>
<use href="#land" x="621.4" y="445.2" width="33.3" height="18.6" color="#e0393f"/>
<text x="471.6" y="477.5" font-size="8" font-weight="400" fill="#333" text-anchor="middle" textLength="31" lengthAdjust="spacingAndGlyphs" >15,8 km</text>
<text x="554" y="477.5" font-size="8" font-weight="400" fill="#333" text-anchor="middle" textLength="16.5" lengthAdjust="spacingAndGlyphs" >22%</text>
<text x="638" y="477.5" font-size="8" font-weight="400" fill="#333" text-anchor="middle" textLength="19.5" lengthAdjust="spacingAndGlyphs" >43 %</text>
<rect x="427.5" y="488.5" width="251.5" height="0.8" fill="#e2e2e2"/>
<use href="#city" x="456.9" y="494.8" width="27.4" height="22.8" color="#55b9e7"/>
<use href="#city" x="539.9" y="499.5" width="27.4" height="22.8" color="#55b9e7"/>
<use href="#city" x="624.2" y="499.5" width="27.4" height="22.8" color="#55b9e7"/>
<text x="471.2" y="530.3" font-size="8" font-weight="400" fill="#333" text-anchor="middle" textLength="24" lengthAdjust="spacingAndGlyphs" >12 km</text>
<text x="554" y="535.8" font-size="8" font-weight="400" fill="#333" text-anchor="middle" textLength="16.5" lengthAdjust="spacingAndGlyphs" >31%</text>
<text x="638" y="535.8" font-size="8" font-weight="400" fill="#333" text-anchor="middle" textLength="19.5" lengthAdjust="spacingAndGlyphs" >68 %</text>
<rect x="679.8" y="378.8" width="172.2" height="42.4" fill="#ec3539"/>
<text x="766" y="392.6" font-size="6.3" font-weight="700" fill="#fdeeee" text-anchor="middle" textLength="153" lengthAdjust="spacingAndGlyphs" >Is de fiets volgens jou het snelste vervoermiddel</text>
<text x="766" y="401.5" font-size="6.3" font-weight="700" fill="#fdeeee" text-anchor="middle" textLength="116" lengthAdjust="spacingAndGlyphs" >voor de verplaatsing die je maakt(e)?</text>
<circle cx="766.2" cy="422.8" r="13.2" fill="#ec3539" stroke="#fdfbfb" stroke-width="1.6"/>
<text x="766.2" y="427" font-size="11.6" font-weight="700" fill="#fff" text-anchor="middle" textLength="14.5" lengthAdjust="spacingAndGlyphs" >JA</text>
<rect x="703" y="528.8" width="138" height="0.6" fill="#e6e6e6"/>
<text x="699.5" y="531.0" font-size="5.6" font-weight="400" fill="#a8a8a8" text-anchor="end" >0%</text>
<rect x="703" y="517.4" width="138" height="0.6" fill="#e6e6e6"/>
<text x="699.5" y="519.57" font-size="5.6" font-weight="400" fill="#a8a8a8" text-anchor="end" >10%</text>
<rect x="703" y="505.9" width="138" height="0.6" fill="#e6e6e6"/>
<text x="699.5" y="508.13999999999993" font-size="5.6" font-weight="400" fill="#a8a8a8" text-anchor="end" >20%</text>
<rect x="703" y="494.5" width="138" height="0.6" fill="#e6e6e6"/>
<text x="699.5" y="496.7099999999999" font-size="5.6" font-weight="400" fill="#a8a8a8" text-anchor="end" >30%</text>
<rect x="703" y="483.1" width="138" height="0.6" fill="#e6e6e6"/>
<text x="699.5" y="485.2799999999999" font-size="5.6" font-weight="400" fill="#a8a8a8" text-anchor="end" >40%</text>
<rect x="703" y="471.6" width="138" height="0.6" fill="#e6e6e6"/>
<text x="699.5" y="473.84999999999997" font-size="5.6" font-weight="400" fill="#a8a8a8" text-anchor="end" >50%</text>
<rect x="703" y="460.2" width="138" height="0.6" fill="#e6e6e6"/>
<text x="699.5" y="462.41999999999996" font-size="5.6" font-weight="400" fill="#a8a8a8" text-anchor="end" >60%</text>
<rect x="703" y="448.8" width="138" height="0.6" fill="#e6e6e6"/>
<text x="699.5" y="450.98999999999995" font-size="5.6" font-weight="400" fill="#a8a8a8" text-anchor="end" >70%</text>
<rect x="726.2" y="450.8" width="26.6" height="78" fill="#4fb7e6"/>
<use href="#city" x="726.2" y="428.6" width="26.6" height="26.2" color="#55b9e7"/>
<rect x="725" y="449" width="29" height="1.5" fill="#fdfbfb"/>
<text x="739.5" y="460.2" font-size="6" font-weight="700" fill="#fff" text-anchor="middle" textLength="22.5" lengthAdjust="spacingAndGlyphs" >67.90%</text>
<rect x="784.2" y="479.7" width="27.2" height="49.1" fill="#ec3539"/>
<use href="#land" x="781" y="459.6" width="33.5" height="18.6" color="#e0393f"/>
<text x="797.8" y="488.9" font-size="6" font-weight="700" fill="#fff" text-anchor="middle" textLength="22.5" lengthAdjust="spacingAndGlyphs" >43.40%</text>
<text x="739" y="543.2" font-size="7.6" font-weight="400" fill="#444" text-anchor="middle" textLength="42.5" lengthAdjust="spacingAndGlyphs" >verstedelijkt</text>
<text x="797.5" y="543.2" font-size="7.6" font-weight="400" fill="#444" text-anchor="middle" textLength="28" lengthAdjust="spacingAndGlyphs" >landelijk</text>
<path d="M518,550 H851.5 V597 H513 Z" fill="url(#gFoot)"/>
<path d="M427.5,536 L518,550" stroke="#d9d6d6" stroke-width="1.5" fill="none"/>
<use href="#logo" x="432.1" y="551.3" width="24.4" height="21.3"/>
<text x="444.3" y="580" font-size="4.8" font-weight="700" fill="#222" text-anchor="middle" textLength="21" lengthAdjust="spacingAndGlyphs" >Provincie</text>
<text x="444.3" y="584.6" font-size="4.8" font-weight="700" fill="#222" text-anchor="middle" textLength="25.5" lengthAdjust="spacingAndGlyphs" >Antwerpen</text>
<text x="462.5" y="572.8" font-size="5.6" font-weight="400" fill="#8a8a8a" text-anchor="start" textLength="13.5" lengthAdjust="spacingAndGlyphs" >Fiets</text>
<text x="476.3" y="572.8" font-size="5.6" font-weight="700" fill="#2a2a2a" text-anchor="start" textLength="9.5" lengthAdjust="spacingAndGlyphs" >bar</text>
<circle cx="488.7" cy="570.9" r="1.7" fill="none" stroke="#e0703c" stroke-width="1.1"/>
<text x="491.7" y="572.8" font-size="5.6" font-weight="400" fill="#555" text-anchor="start" textLength="17.5" lengthAdjust="spacingAndGlyphs" >meter</text>
<text x="660.6" y="566.5" font-size="10.6" font-weight="700" fill="#fff" text-anchor="start" textLength="161.60000000000002" lengthAdjust="spacingAndGlyphs" >'DE GROTE FIETSENQUÊTE 2017'</text>
<text x="661.6" y="572.6" font-size="3.6" font-weight="400" fill="#f8c5c8" text-anchor="start" textLength="159.60000000000002" lengthAdjust="spacingAndGlyphs" >Grootschalig fietsonderzoek over het functioneel fietsen in de provincie Antwerpen</text>
<text x="741.4" y="583.3" font-size="5.6" font-weight="700" fill="#fde4e4" text-anchor="middle" textLength="86" lengthAdjust="spacingAndGlyphs" >www.antwerpenfietsprovincie.be</text>
</g>

<g id="p3">
<path d="M856,0 H1280 V54.6 L878,64.6 L856,53 Z" fill="url(#gHead)"/>
<use href="#courier" x="890.8" y="9.3" width="55.2" height="44.5" color="#fff" style="--bg:#c7254a"/>
<text x="971.3" y="34.8" font-size="18" font-weight="700" fill="#fdeeee" text-anchor="start" textLength="216.6" lengthAdjust="spacingAndGlyphs" >DE FUNCTIONELE FIETSER</text>
<path d="M1067.5,74.5 Q1083.8,71.1 1095.3,81.8 Q1111.1,86.8 1114.3,101.4 Q1124.6,113.2 1118.5,127.0 Q1120.0,141.9 1106.4,150.6 Q1098.7,163.8 1082.0,164.6 Q1067.5,172.0 1053.0,164.6 Q1036.3,163.8 1028.6,150.6 Q1015.0,141.9 1016.5,127.0 Q1010.4,113.2 1020.7,101.4 Q1023.9,86.8 1039.7,81.8 Q1051.2,71.1 1067.5,74.5" fill="#fdfcfc" stroke="#e6e3e3" stroke-width="1.2"/>
<g fill="#fdfcfc" stroke="#dadada" stroke-width="0.8"><circle cx="1006.7" cy="97.4" r="6"/><circle cx="991" cy="106.4" r="4.5"/><circle cx="981" cy="117" r="3"/><circle cx="1128" cy="97.4" r="6"/><circle cx="1143.5" cy="106.4" r="4.5"/><circle cx="1153.5" cy="117" r="3"/></g>
<use href="#ftri" x="1033" y="84.8" width="70" height="63" color="#2270b5"/>
<use href="#people" x="924" y="125.7" width="64" height="58.9" color="#e8343c"/>
<use href="#trio" x="1117.7" y="136" width="142.30" height="49.46" color="#bf2250"/>
<text x="885.8" y="209" font-size="22.6" font-weight="400" fill="#e0393f" text-anchor="start" textLength="43.7" lengthAdjust="spacingAndGlyphs" stroke="#e0393f" stroke-width="0.55">14%</text>
<text x="936.5" y="198.5" font-size="7.7" font-weight="700" fill="#e0393f" text-anchor="start" textLength="108.3" lengthAdjust="spacingAndGlyphs" >van de steekproef inwoners</text>
<text x="936.5" y="208.4" font-size="7.7" font-weight="400" fill="#555" text-anchor="start" textLength="62" lengthAdjust="spacingAndGlyphs" >kennen het logo</text>
<text x="1126" y="209" font-size="22.6" font-weight="400" fill="#bf2250" text-anchor="start" textLength="43" lengthAdjust="spacingAndGlyphs" stroke="#bf2250" stroke-width="0.55">27%</text>
<text x="1174.6" y="198.5" font-size="7.7" font-weight="700" fill="#bf2250" text-anchor="start" textLength="65.4" lengthAdjust="spacingAndGlyphs" >van de fietsers</text>
<text x="1174.6" y="208.4" font-size="7.7" font-weight="400" fill="#555" text-anchor="start" textLength="62" lengthAdjust="spacingAndGlyphs" >kennen het logo</text>
<rect x="856" y="225" width="252" height="33.4" fill="url(#gBand)"/>
<rect x="1107.6" y="225" width="172.4" height="171" fill="#ec3539"/>
<path d="M957.40,241.50 L967.50,224.80 L973.75,224.80 L973.75,232.00 L989.75,232.00 L989.75,224.80 L996.00,224.80 L1006.10,241.50 L996.00,258.20 L989.75,258.20 L989.75,251.70 L973.75,251.70 L973.75,258.20 L967.50,258.20 Z" fill="#fdfbfb"/>
<text x="920.3" y="243.6" font-size="6.4" font-weight="700" fill="#fdeeee" text-anchor="middle" textLength="42.5" lengthAdjust="spacingAndGlyphs" >Fietsostrade</text>
<text x="1063.8" y="243.6" font-size="6.4" font-weight="700" fill="#fdeeee" text-anchor="middle" textLength="38.5" lengthAdjust="spacingAndGlyphs" >Fietsroutes</text>
<text x="1193.9" y="237.2" font-size="9.2" font-weight="700" fill="#fdeeee" text-anchor="middle" textLength="118" lengthAdjust="spacingAndGlyphs" >Op weg van of naar het werk</text>
<rect x="1109.4" y="241.8" width="170.6" height="67.7" fill="#fefdfd"/>
<text x="1151.8" y="270.6" font-size="22.5" font-weight="700" fill="#1f66a8" text-anchor="start" textLength="43.7" lengthAdjust="spacingAndGlyphs" >31 %</text>
<text x="1201" y="261.3" font-size="8.6" font-weight="700" fill="#2270b5" text-anchor="start" textLength="37" lengthAdjust="spacingAndGlyphs" >Gebruikt</text>
<text x="1201" y="270" font-size="8.6" font-weight="700" fill="#2270b5" text-anchor="start" textLength="48.6" lengthAdjust="spacingAndGlyphs" >fietsostrade</text>
<rect x="1115" y="280.4" width="165" height="0.8" fill="#dcdcdc"/>
<text x="1195.5" y="291.7" font-size="7.8" font-weight="700" fill="#333" text-anchor="end" >61 %</text>
<text x="1201" y="291.7" font-size="7.8" font-weight="400" fill="#777" text-anchor="start" textLength="61.3" lengthAdjust="spacingAndGlyphs" >Geen fietsostrade</text>
<text x="1195.5" y="303" font-size="7.8" font-weight="700" fill="#333" text-anchor="end" >8 %</text>
<text x="1201" y="303" font-size="7.8" font-weight="400" fill="#777" text-anchor="start" textLength="33.7" lengthAdjust="spacingAndGlyphs" >Weet niet</text>
<text x="1193.9" y="321" font-size="9.2" font-weight="700" fill="#fdeeee" text-anchor="middle" textLength="130" lengthAdjust="spacingAndGlyphs" >Andere functionele verplaatsing</text>
<rect x="1109.4" y="325.6" width="170.6" height="70" fill="#fefdfd"/>
<text x="1151.8" y="355.8" font-size="22.5" font-weight="700" fill="#1f66a8" text-anchor="start" textLength="43.7" lengthAdjust="spacingAndGlyphs" >14 %</text>
<text x="1201" y="345.2" font-size="8.6" font-weight="700" fill="#2270b5" text-anchor="start" textLength="37" lengthAdjust="spacingAndGlyphs" >Gebruikt</text>
<text x="1201" y="354.2" font-size="8.6" font-weight="700" fill="#2270b5" text-anchor="start" textLength="48.6" lengthAdjust="spacingAndGlyphs" >fietsostrade</text>
<rect x="1115" y="365.4" width="165" height="0.8" fill="#dcdcdc"/>
<text x="1195.5" y="377.5" font-size="7.8" font-weight="700" fill="#333" text-anchor="end" >79 %</text>
<text x="1201" y="377.5" font-size="7.8" font-weight="400" fill="#777" text-anchor="start" textLength="61.3" lengthAdjust="spacingAndGlyphs" >Geen fietsostrade</text>
<text x="1195.5" y="389.2" font-size="7.8" font-weight="700" fill="#333" text-anchor="end" >7 %</text>
<text x="1201" y="389.2" font-size="7.8" font-weight="400" fill="#777" text-anchor="start" textLength="33.7" lengthAdjust="spacingAndGlyphs" >Weet niet</text>
<rect x="867.6" y="270.6" width="105" height="43.8" fill="#fdfdfd" stroke="#8fb0cc" stroke-width="0.7"/>
<rect x="994.2" y="270.6" width="105.3" height="43.8" fill="#fdfdfd" stroke="#b5b5b5" stroke-width="0.7"/>
<use href="#ftri" x="869" y="274.6" width="40" height="34.8" color="#2270b5"/>
<text x="910.7" y="306.2" font-size="19.4" font-weight="700" fill="#1f66a8" text-anchor="start" textLength="50.6" lengthAdjust="spacingAndGlyphs" >7,5/10</text>
<circle cx="1015.7" cy="291.8" r="19.2" fill="#7f7f7f"/>
<use href="#bike" x="1002.6" y="284.4" width="26.2" height="14.8" color="#f2f2f2" style="--sw:4.6"/>
<text x="1037.5" y="306.2" font-size="19.4" font-weight="400" fill="#808080" text-anchor="start" textLength="50.4" lengthAdjust="spacingAndGlyphs" stroke="#808080" stroke-width="0.5">6,3/10</text>
<use href="#courier" x="874" y="319.3" width="81.4" height="68" color="#2270b5"/>
<use href="#courier" x="1005" y="319.3" width="81.4" height="68" color="#7d7d7d"/>
<rect x="856" y="396.3" width="423.2" height="25.4" fill="url(#gBand)"/>
<text x="1067.6" y="414.4" font-size="12.6" font-weight="700" fill="#fdeeee" text-anchor="middle" textLength="219.6" lengthAdjust="spacingAndGlyphs" >Afstand traject functionele fietsrit</text>
<text x="875.6" y="447.6" font-size="12.4" font-weight="700" fill="#bf2250" text-anchor="start" textLength="66" lengthAdjust="spacingAndGlyphs" >Gemiddeld</text>
<text x="1049.6" y="447.6" font-size="12.4" font-weight="700" fill="#bf2250" text-anchor="end" textLength="46.5" lengthAdjust="spacingAndGlyphs" >13,6 km</text>
<g transform="translate(876.4,475.40000000000003) scale(1.1)" fill="#e0393f"><path d="M5,1 L10.5,3.6 L5,6.2 L-0.5,3.6 Z"/><path d="M1.8,5.6 V7.6 Q5,9.8 8.2,7.6 V5.6 L5,7.2 Z"/></g>
<text x="891.7" y="483.8" font-size="10" font-weight="400" fill="#777" text-anchor="start" textLength="64" lengthAdjust="spacingAndGlyphs" >schoolverkeer</text>
<text x="1049.6" y="483.6" font-size="9.4" font-weight="700" fill="#2a2a2a" text-anchor="end" textLength="22.2" lengthAdjust="spacingAndGlyphs" >7 km</text>
<g transform="translate(876.4,494.40000000000003) scale(1.1)" fill="#e0393f"><rect x="0" y="2.6" width="10" height="6.6" rx="0.8"/><path d="M3.4,2.6 V1.2 H6.6 V2.6" fill="none" stroke="#e0393f" stroke-width="1"/><rect x="0" y="5.2" width="10" height="0.6" fill="#fff"/></g>
<text x="891.7" y="502.8" font-size="10" font-weight="400" fill="#777" text-anchor="start" textLength="91.5" lengthAdjust="spacingAndGlyphs" >woon-werktrajecten</text>
<text x="1049.6" y="502.6" font-size="9.4" font-weight="700" fill="#2a2a2a" text-anchor="end" textLength="36" lengthAdjust="spacingAndGlyphs" >14,2 km</text>
<g transform="translate(876.4,512.8000000000001) scale(1.1)"><path d="M2,1 a1.7,1.7 0 0 1 1.7,1.7 q0,1.2 -1.7,3 q-1.7,-1.8 -1.7,-3 a1.7,1.7 0 0 1 1.7,-1.7 Z" fill="#e0393f"/><path d="M2,6.4 V8.6 H8 Q10,8.6 10,7 Q10,5.6 8,5.6 H5.6" fill="none" stroke="#e0393f" stroke-width="0.9"/></g>
<text x="891.7" y="521.2" font-size="10" font-weight="400" fill="#777" text-anchor="start" textLength="101" lengthAdjust="spacingAndGlyphs" >overige verplaatsingen</text>
<text x="1049.6" y="521.0" font-size="9.4" font-weight="700" fill="#2a2a2a" text-anchor="end" textLength="36" lengthAdjust="spacingAndGlyphs" >13,8 km</text>
<rect x="1067" y="421.4" width="0.9" height="127.6" fill="#c9405a"/><rect x="1172.6" y="421.4" width="0.9" height="127.6" fill="#c9405a"/>
<text x="1120.3" y="447.6" font-size="12.4" font-weight="700" fill="#bf2250" text-anchor="middle" textLength="78.6" lengthAdjust="spacingAndGlyphs" >Fietsostrade</text>
<text x="1226.2" y="447.6" font-size="12.4" font-weight="700" fill="#bf2250" text-anchor="middle" textLength="70.4" lengthAdjust="spacingAndGlyphs" >Fietsroutes</text>
<use href="#ftri" x="1105" y="469" width="31.4" height="27.4" color="#2270b5"/>
<text x="1099.6" y="522.5" font-size="20" font-weight="700" fill="#1f66a8" text-anchor="start" textLength="57.4" lengthAdjust="spacingAndGlyphs" >18 km</text>
<circle cx="1226.4" cy="482.1" r="16" fill="#7f7f7f"/>
<use href="#bike" x="1216" y="476.2" width="21" height="11.8" color="#e8e8e8" style="--sw:5"/>
<text x="1201.7" y="523" font-size="15" font-weight="400" fill="#8c8c8c" text-anchor="start" textLength="49.7" lengthAdjust="spacingAndGlyphs" >12,3 km</text>
<path d="M945,550 H1279 V597 H940 Z" fill="url(#gFoot)"/>
<path d="M856,536 L945,550" stroke="#d9d6d6" stroke-width="1.5" fill="none"/>
<use href="#logo" x="860.1" y="551.3" width="24.4" height="21.3"/>
<text x="872.3" y="580" font-size="4.8" font-weight="700" fill="#222" text-anchor="middle" textLength="21" lengthAdjust="spacingAndGlyphs" >Provincie</text>
<text x="872.3" y="584.6" font-size="4.8" font-weight="700" fill="#222" text-anchor="middle" textLength="25.5" lengthAdjust="spacingAndGlyphs" >Antwerpen</text>
<text x="890.5" y="572.8" font-size="5.6" font-weight="400" fill="#8a8a8a" text-anchor="start" textLength="13.5" lengthAdjust="spacingAndGlyphs" >Fiets</text>
<text x="904.3" y="572.8" font-size="5.6" font-weight="700" fill="#2a2a2a" text-anchor="start" textLength="9.5" lengthAdjust="spacingAndGlyphs" >bar</text>
<circle cx="916.7" cy="570.9" r="1.7" fill="none" stroke="#e0703c" stroke-width="1.1"/>
<text x="919.7" y="572.8" font-size="5.6" font-weight="400" fill="#555" text-anchor="start" textLength="17.5" lengthAdjust="spacingAndGlyphs" >meter</text>
<text x="1096" y="564.8" font-size="10.6" font-weight="700" fill="#fff" text-anchor="start" textLength="160" lengthAdjust="spacingAndGlyphs" >'DE GROTE FIETSENQUÊTE 2017'</text>
<text x="1097" y="572.6" font-size="3.6" font-weight="400" fill="#f8c5c8" text-anchor="start" textLength="158" lengthAdjust="spacingAndGlyphs" >Grootschalig fietsonderzoek over het functioneel fietsen in de provincie Antwerpen</text>
<text x="1176" y="581.6" font-size="5.6" font-weight="700" fill="#fde4e4" text-anchor="middle" textLength="85" lengthAdjust="spacingAndGlyphs" >www.antwerpenfietsprovincie.be</text>
</g>

</svg>
</body></html>
